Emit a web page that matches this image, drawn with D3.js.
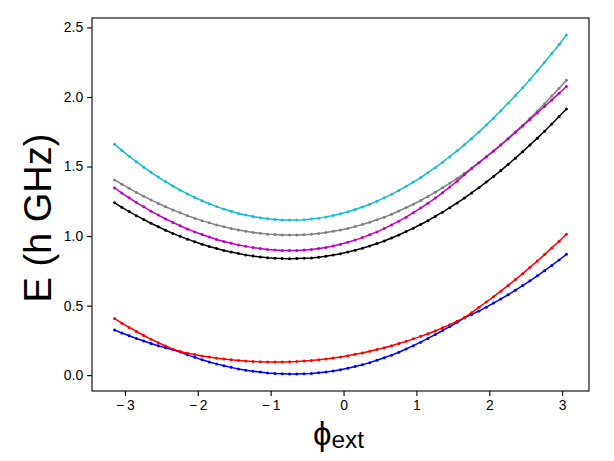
<!DOCTYPE html>
<html><head><meta charset="utf-8">
<script src="https://cdn.jsdelivr.net/npm/d3@7"></script>
<style>body{margin:0;background:#fff}svg{display:block}</style>
</head><body>
<svg id="chart" width="614" height="461"></svg>
<script>
const phi=[-3.1416,-3.0416,-2.9416,-2.8416,-2.7416,-2.6416,-2.5416,-2.4416,-2.3416,-2.2416,-2.1416,-2.0416,-1.9416,-1.8416,-1.7416,-1.6416,-1.5416,-1.4416,-1.3416,-1.2416,-1.1416,-1.0416,-0.9416,-0.8416,-0.7416,-0.6416,-0.5416,-0.4416,-0.3416,-0.2416,-0.1416,-0.0416,0.0584,0.1584,0.2584,0.3584,0.4584,0.5584,0.6584,0.7584,0.8584,0.9584,1.0584,1.1584,1.2584,1.3584,1.4584,1.5584,1.6584,1.7584,1.8584,1.9584,2.0584,2.1584,2.2584,2.3584,2.4584,2.5584,2.6584,2.7584,2.8584,2.9584,3.0584];
const level0=[0.324,0.303,0.283,0.264,0.246,0.228,0.212,0.197,0.183,0.166,0.146,0.128,0.111,0.095,0.081,0.068,0.056,0.045,0.036,0.028,0.022,0.016,0.012,0.010,0.008,0.008,0.010,0.012,0.017,0.023,0.030,0.039,0.050,0.062,0.075,0.090,0.107,0.125,0.144,0.165,0.188,0.212,0.237,0.264,0.292,0.321,0.349,0.380,0.412,0.437,0.461,0.489,0.518,0.548,0.578,0.611,0.644,0.678,0.714,0.751,0.789,0.828,0.869];
const level1=[0.407,0.374,0.343,0.314,0.285,0.259,0.233,0.210,0.187,0.170,0.158,0.148,0.138,0.130,0.122,0.116,0.110,0.105,0.101,0.098,0.096,0.094,0.094,0.095,0.096,0.098,0.102,0.106,0.111,0.117,0.124,0.131,0.140,0.150,0.160,0.172,0.184,0.197,0.212,0.227,0.243,0.261,0.279,0.298,0.318,0.340,0.363,0.388,0.414,0.449,0.488,0.526,0.564,0.604,0.645,0.687,0.730,0.775,0.820,0.867,0.915,0.963,1.013];
const level2=[1.239,1.207,1.176,1.147,1.119,1.092,1.067,1.042,1.019,0.998,0.978,0.959,0.941,0.925,0.910,0.897,0.885,0.874,0.864,0.856,0.850,0.844,0.841,0.838,0.837,0.838,0.840,0.843,0.848,0.855,0.864,0.873,0.885,0.898,0.913,0.929,0.946,0.965,0.986,1.008,1.032,1.057,1.083,1.111,1.141,1.172,1.204,1.238,1.273,1.310,1.348,1.388,1.429,1.471,1.515,1.560,1.607,1.655,1.704,1.754,1.806,1.860,1.914];
const level3=[1.346,1.309,1.275,1.241,1.210,1.179,1.151,1.123,1.098,1.074,1.051,1.030,1.011,0.993,0.976,0.961,0.948,0.936,0.926,0.917,0.910,0.904,0.900,0.897,0.896,0.897,0.899,0.904,0.910,0.918,0.928,0.941,0.955,0.971,0.989,1.009,1.030,1.054,1.080,1.107,1.136,1.168,1.201,1.236,1.273,1.312,1.353,1.395,1.440,1.486,1.528,1.569,1.611,1.655,1.700,1.746,1.792,1.838,1.885,1.932,1.979,2.027,2.075];
const level4=[1.404,1.373,1.343,1.314,1.286,1.260,1.235,1.211,1.188,1.167,1.147,1.128,1.111,1.095,1.080,1.067,1.055,1.044,1.034,1.026,1.020,1.014,1.011,1.008,1.007,1.008,1.010,1.013,1.018,1.025,1.034,1.044,1.055,1.068,1.083,1.099,1.117,1.136,1.157,1.180,1.204,1.229,1.256,1.285,1.315,1.347,1.380,1.415,1.451,1.489,1.529,1.570,1.612,1.656,1.702,1.749,1.797,1.847,1.899,1.952,2.007,2.063,2.120];
const level5=[1.660,1.616,1.574,1.534,1.495,1.458,1.424,1.391,1.360,1.330,1.303,1.277,1.254,1.232,1.212,1.194,1.178,1.163,1.151,1.140,1.132,1.125,1.120,1.116,1.115,1.116,1.118,1.123,1.129,1.138,1.148,1.160,1.175,1.191,1.209,1.229,1.251,1.275,1.300,1.328,1.357,1.388,1.421,1.456,1.492,1.531,1.571,1.613,1.656,1.702,1.749,1.798,1.848,1.901,1.955,2.010,2.067,2.126,2.187,2.249,2.313,2.378,2.446];
const seriesNames=["level0","level1","level2","level4","level3","level5"];
const seriesValues=[level0,level1,level2,level4,level3,level5];
const seriesColors=["#0000ff","#ff0000","#000000","#808080","#bf00bf","#17becf"];
const xTicks=[-3,-2,-1,0,1,2,3];
const yTicks=[0.0,0.5,1.0,1.5,2.0,2.5];
const yLabelText="E (h GHz)";

const svg=d3.select("#chart");
const W=614,H=461;
const m={left:92,right:25,top:18,bottom:70};
const pw=W-m.left-m.right, ph=H-m.top-m.bottom;

function padded(lo,hi){const r=hi-lo;return [lo-0.05*r,hi+0.05*r];}
const xExt=d3.extent(phi);
const allY=seriesValues.flat();
const yExt=d3.extent(allY);
const x=d3.scaleLinear().domain(padded(xExt[0],xExt[1])).range([m.left,m.left+pw]);
const y=d3.scaleLinear().domain(padded(yExt[0],yExt[1])).range([m.top+ph,m.top]);

const g=svg.append("g");
const line=d3.line().x(d=>x(d[0])).y(d=>y(d[1]));
seriesValues.forEach((vals,k)=>{
  const pts=phi.map((p,i)=>[p,vals[i]]);
  const s=g.append("g").attr("class",seriesNames[k]);
  s.append("path").datum(pts).attr("d",line).attr("fill","none")
    .attr("stroke",seriesColors[k]).attr("stroke-width",1.5);
  s.selectAll("circle").data(pts).join("circle")
    .attr("cx",d=>x(d[0])).attr("cy",d=>y(d[1])).attr("r",1.5)
    .attr("fill",seriesColors[k]);
});

const fmtX=v=>v<0?"\u2212\u2009"+Math.abs(v):String(v);
const xAxis=d3.axisBottom(x).tickValues(xTicks).tickFormat(fmtX).tickSizeInner(4.9).tickSizeOuter(0).tickPadding(4);
const yAxis=d3.axisLeft(y).tickValues(yTicks).tickFormat(d3.format(".1f")).tickSizeInner(4.9).tickSizeOuter(0).tickPadding(4);
const gx=svg.append("g").attr("transform",`translate(0,${m.top+ph})`).call(xAxis);
const gy=svg.append("g").attr("transform",`translate(${m.left},0)`).call(yAxis);
[gx,gy].forEach(a=>{
  a.select(".domain").remove();
  a.selectAll("line").attr("stroke","#000").attr("stroke-width",1.1);
  a.selectAll("text").attr("font-family","'Liberation Sans',Arial,sans-serif").attr("font-size",13.9).attr("fill","#000");
});
svg.append("rect").attr("x",m.left).attr("y",m.top).attr("width",pw).attr("height",ph)
  .attr("fill","none").attr("stroke","#000").attr("stroke-width",1.1);

// y label
svg.append("text").attr("transform",`translate(51,218) rotate(-90)`)
  .attr("text-anchor","middle").attr("font-family","'Liberation Sans',Arial,sans-serif")
  .attr("font-size",38).attr("fill","#000").text(yLabelText);
// x label
const xl=svg.append("text").attr("x",m.left+pw/2-2).attr("y",445).attr("text-anchor","middle")
  .attr("font-family","'Liberation Sans',Arial,sans-serif").attr("fill","#000");
xl.append("tspan").attr("font-size",33).text("\u03D5");
xl.append("tspan").attr("font-size",24.5).attr("dy",3).text("ext");
</script>
</body></html>
